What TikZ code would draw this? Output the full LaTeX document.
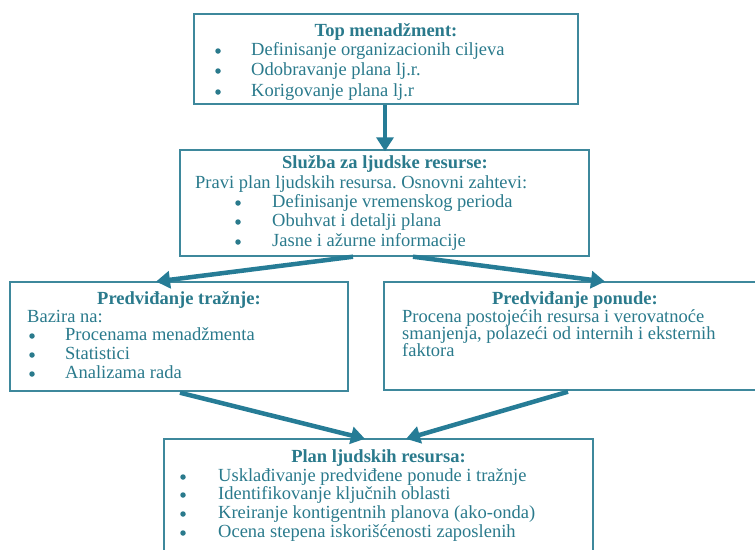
\documentclass[tikz,border=0pt]{standalone}
\usepackage{fontspec}
\setmainfont{Liberation Serif}
\usetikzlibrary{arrows.meta}
\definecolor{txt}{RGB}{42,122,140}
\definecolor{brd}{RGB}{62,136,156}
\definecolor{arw}{RGB}{38,124,150}
\tikzset{
  box/.style={draw=brd, line width=1.4pt, inner sep=0pt},
  ttl/.style={text=txt, font=\fontsize{18.5}{20}\selectfont\bfseries, anchor=mid, inner sep=0pt, yshift=-2pt},
  ln/.style={text=txt, font=\fontsize{18.5}{20}\selectfont, anchor=mid west, inner sep=0pt, yshift=-2pt},
  bul/.style={fill=txt, circle, inner sep=0pt, minimum size=5.5pt},
  arr/.style={draw=arw, line width=4.5pt, -{Triangle[length=14pt,width=17pt]}, shorten >=-2pt}
}
\frenchspacing
\begin{document}
\begin{tikzpicture}[x=1pt,y=-1pt]
\useasboundingbox (0,0) rectangle (755,549);
\clip (0,0) rectangle (755,549);
% boxes
\node[box, minimum width=384pt, minimum height=90pt] (top) at (386,59) {};
\node[box, minimum width=409pt, minimum height=106pt] (hr) at (384.5,203) {};
\node[box, minimum width=338pt, minimum height=109pt] (dem) at (179,336.5) {};
\node[box, minimum width=382pt, minimum height=108pt] (sup) at (575,336) {};
\node[box, minimum width=429pt, minimum height=131pt] (plan) at (378.5,504.5) {};
% top text
\node[ttl] (t0) at (386,32) {Top menadžment:};
\node[bul] (tb1) at (218,51) {};
\node[ln] (t1) at (251,51) {Definisanje organizacionih ciljeva};
\node[bul] (tb2) at (218,71) {};
\node[ln] (t2) at (251,71) {Odobravanje plana lj.r.};
\node[bul] (tb3) at (218,92) {};
\node[ln] (t3) at (251,92) {Korigovanje plana lj.r};
% hr text
\node[ttl] (h0) at (385,164) {Služba za ljudske resurse:};
\node[ln] (h1) at (195,184) {Pravi plan ljudskih resursa. Osnovni zahtevi:};
\node[bul] (hb2) at (238,203) {};
\node[ln] (h2) at (272,203) {Definisanje vremenskog perioda};
\node[bul] (hb3) at (238,222) {};
\node[ln] (h3) at (272,222) {Obuhvat i detalji plana};
\node[bul] (hb4) at (238,242) {};
\node[ln] (h4) at (272,242) {Jasne i ažurne informacije};
% demand text
\node[ttl] (d0) at (179,300) {Predviđanje tražnje:};
\node[ln] (d1) at (27,318) {Bazira na:};
\node[bul] (db2) at (32,336) {};
\node[ln] (d2) at (65,336) {Procenama menadžmenta};
\node[bul] (db3) at (32,355) {};
\node[ln] (d3) at (65,355) {Statistici};
\node[bul] (db4) at (32,374) {};
\node[ln] (d4) at (65,374) {Analizama rada};
% supply text
\node[ttl] (s0) at (575,300) {Predviđanje ponude:};
\node[ln] (s1) at (402,318) {Procena postojećih resursa i verovatnoće};
\node[ln] (s2) at (402,335) {smanjenja, polazeći od internih i eksternih};
\node[ln] (s3) at (402,352) {faktora};
% plan text
\node[ttl] (p0) at (378.5,458) {Plan ljudskih resursa:};
\node[bul] (pb1) at (183,477) {};
\node[ln] (p1) at (218,477) {Usklađivanje predviđene ponude i tražnje};
\node[bul] (pb2) at (183,495) {};
\node[ln] (p2) at (218,495) {Identifikovanje ključnih oblasti};
\node[bul] (pb3) at (183,514) {};
\node[ln] (p3) at (218,514) {Kreiranje kontigentnih planova (ako-onda)};
\node[bul] (pb4) at (183,533) {};
\node[ln] (p4) at (218,533) {Ocena stepena iskorišćenosti zaposlenih};
% arrows
\draw[arr] ([xshift=-1pt]top.south) -- ([xshift=0.5pt]hr.north);
\draw[arr] ([xshift=-31.5pt]hr.south) -- ([xshift=-21pt]dem.north);
\draw[arr] ([xshift=28.5pt]hr.south) -- ([xshift=28pt]sup.north);
\draw[arr] ([xshift=1pt,yshift=-1pt]dem.south) -- ([xshift=-15.5pt]plan.north);
\draw[arr] ([xshift=-7pt,yshift=-1pt]sup.south) -- ([xshift=29.5pt]plan.north);
\end{tikzpicture}
\end{document}
